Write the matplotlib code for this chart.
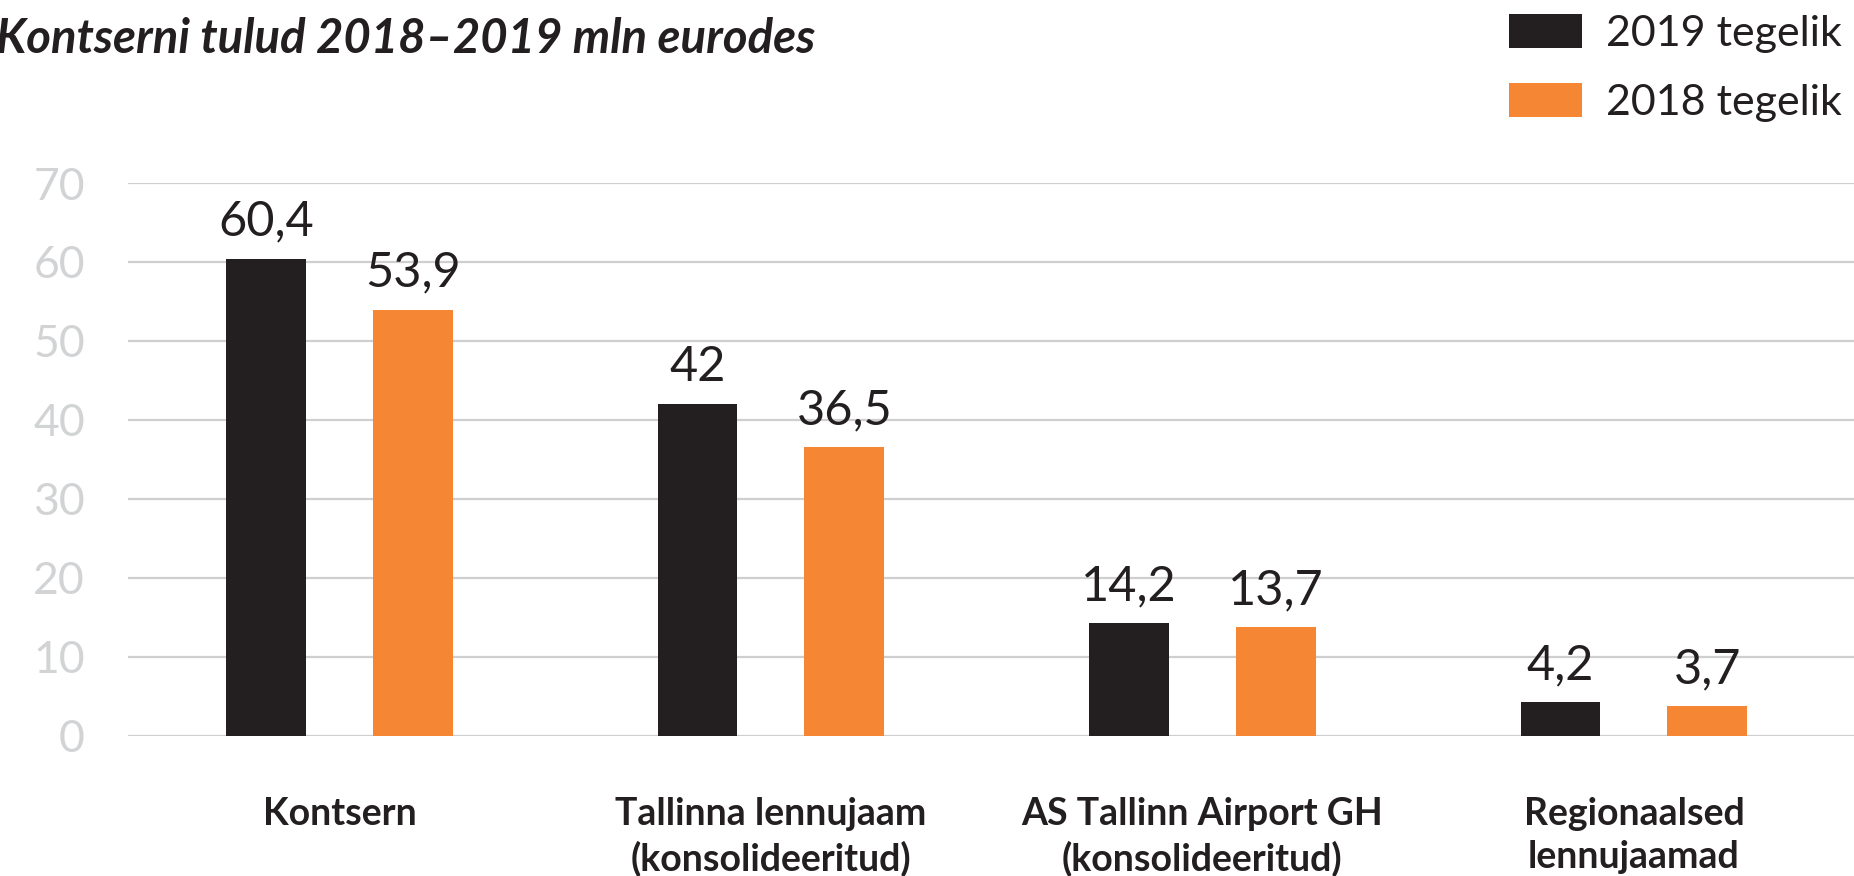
import numpy as np
import matplotlib
matplotlib.use("Agg")
import matplotlib.pyplot as plt

plt.rcParams['font.family'] = ['Lato', 'DejaVu Sans']

# Data
categories = ["Kontsern", "Tallinna lennujaam\n(konsolideeritud)",
              "AS Tallinn Airport GH\n(konsolideeritud)", "Regionaalsed\nlennujaamad"]
tulud_2019 = [60.4, 42, 14.2, 4.2]
tulud_2018 = [53.9, 36.5, 13.7, 3.7]
series_names = ["2019 tegelik", "2018 tegelik"]
y_ticks = [0, 10, 20, 30, 40, 50, 60, 70]

BLACK = "#231f20"
ORANGE = "#f58634"

fig = plt.figure(figsize=(18.54, 8.76), dpi=100)
ax = fig.add_axes([128 / 1854, 1 - 735.5 / 876, 1 - 128 / 1854, (735.5 - 183) / 876])

x = np.arange(len(categories))
width = 0.185
off = 0.17
b1 = ax.bar(x - off, tulud_2019, width, color=BLACK, label=series_names[0], zorder=3)
b2 = ax.bar(x + off, tulud_2018, width, color=ORANGE, label=series_names[1], zorder=3)

def fmt(vals):
    return [f"{v:g}".replace(".", ",") for v in vals]

ax.bar_label(b1, labels=fmt(tulud_2019), padding=11, fontsize=35, color=BLACK)
ax.bar_label(b2, labels=fmt(tulud_2018), padding=11, fontsize=35, color=BLACK)

ax.set_ylim(0, 70)
ax.set_xlim(-0.49, 3.51)
ax.set_yticks(y_ticks)
ax.set_yticklabels([str(t) for t in y_ticks], fontsize=32, color="#d1d3d4")
ax.set_xticks(x)
ax.set_xticklabels(categories, fontsize=27, fontweight="bold", color=BLACK, linespacing=1.34)
ax.tick_params(axis="both", length=0)
ax.tick_params(axis="y", pad=31)
ax.tick_params(axis="x", pad=44)
for s in ax.spines.values():
    s.set_visible(False)
ax.yaxis.grid(True, color="#cfcfcf", linewidth=1.6)
ax.set_axisbelow(True)

fig.text(-0.002, 1 - 39 / 876, "Kontserni tulud 2018–2019 mln eurodes", fontsize=34,
         fontweight="bold", style="italic", color=BLACK, va="center", ha="left")

fig.legend(handles=[b1, b2], loc="upper left", bbox_to_anchor=(1509 / 1854, 1 - 14 / 876),
           frameon=False, fontsize=31, handlelength=1.7, handleheight=0.84,
           handletextpad=0.56, labelspacing=0.7, borderpad=0, borderaxespad=0,
           labelcolor=BLACK)

fig.savefig("out.png", dpi=100)
